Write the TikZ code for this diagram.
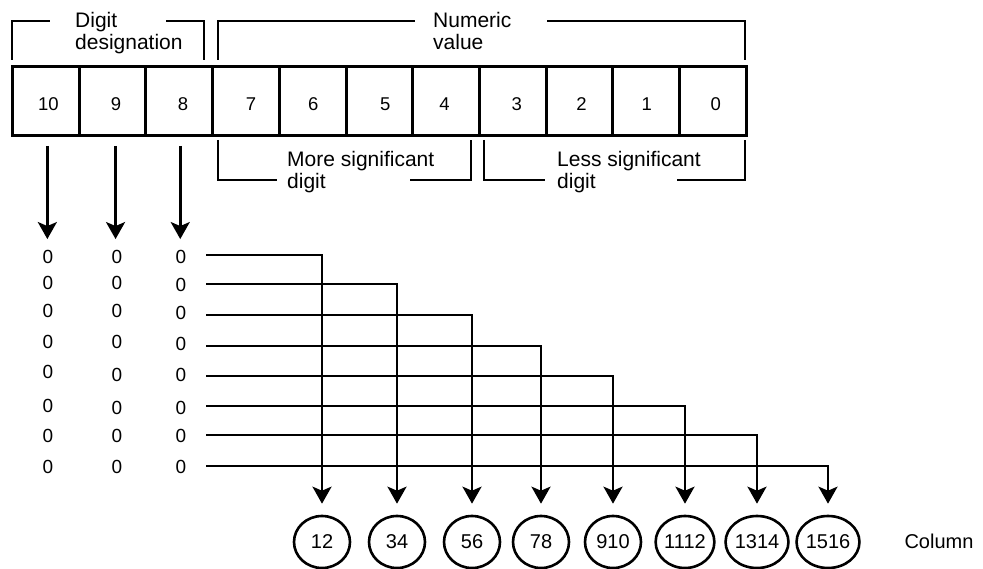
\documentclass[tikz,border=0pt]{standalone}
\usepackage{fontspec}
\setmainfont{Liberation Sans}
\usetikzlibrary{arrows.meta,shapes.geometric}

\begin{document}
\begin{tikzpicture}[x=1pt,y=-1pt,
  cell/.style={draw, line width=3pt, minimum width=66.7pt, minimum height=69pt,
    inner sep=0pt, anchor=north west},
  digit/.style={font=\fontsize{18.5}{18.5}\selectfont, inner sep=0pt},
  zero/.style={font=\fontsize{19}{19}\selectfont, inner sep=0pt},
  lbl/.style={font=\fontsize{21}{22}\selectfont, inner sep=0pt, anchor=base west},
  brk/.style={line width=2.6pt},
  conn/.style={line width=2.7pt, -{Stealth[length=17pt,width=19pt,inset=4pt]}},
  col/.style={draw, ellipse, line width=2.6pt, minimum width=56pt, minimum height=52pt,
    inner sep=0pt, font=\fontsize{20}{20}\selectfont},
]
\useasboundingbox (0,0) rectangle (983,569);

% the eleven digit cells
\foreach \t/\dx [count=\i from 0] in {10/2.5, 9/3.5, 8/3.7, 7/5, 6/0.5, 5/6, 4/-1.5, 3/4, 2/2, 1/0.5, 0/3}
  \node[cell, label={[digit, xshift=\dx pt, yshift=-3pt]center:\t}] (cell\t) at ({11+66.7*\i},65) {};

% brackets above the cells
\draw[brk] (12,60) -- (12,21) -- (50,21);
\draw[brk] (166,21) -- (204,21) -- (204,60);
\node[lbl] (desig) at (75,28) {\begin{tabular}[t]{@{}l@{}}Digit\\designation\end{tabular}};
\draw[brk] (218,60) -- (218,21) -- (415,21);
\draw[brk] (547,21) -- (745,21) -- (745,60);
\node[lbl] (numval) at (433,28) {\begin{tabular}[t]{@{}l@{}}Numeric\\value\end{tabular}};

% brackets below the cells
\draw[brk] (218,140) -- (218,180) -- (277,180);
\draw[brk] (410,180) -- (471,180) -- (471,140);
\node[lbl] (more) at (287,167) {\begin{tabular}[t]{@{}l@{}}More significant\\digit\end{tabular}};
\draw[brk] (484,140) -- (484,180) -- (545,180);
\draw[brk] (677,180) -- (745,180) -- (745,140);
\node[lbl] (less) at (557,167) {\begin{tabular}[t]{@{}l@{}}Less significant\\digit\end{tabular}};

% rows of zeros, row lines and column circles
\foreach \i/\ya/\yb/\yc/\yl/\xk/\c in {
  1/257/257/257/255/322/12,
  2/283/283/285/284/397/34,
  3/311/311/313/315/472/56,
  4/342/342/344/346/541/78,
  5/372/375/375/376/613/910,
  6/406/408/408/406/685/1112,
  7/436/436/436/435/757/1314,
  8/467/467/467/466/828/1516} {
  \node[zero] (a\i) at (48,\ya) {0};
  \node[zero] (b\i) at (117,\yb) {0};
  \node[zero] (c\i) at (181,\yc) {0};
  \coordinate (s\i) at (206,\yl);
  \node[col] (k\i) at (\xk,542) {\c};
  \draw[conn, shorten >=11pt] (s\i) -| (k\i.north);
}

% arrows from the designation cells down to the zero columns
\draw[conn, shorten <=9pt, shorten >=11pt] ([xshift=1.5pt]cell10.south) -- ([xshift=1.5pt]cell10.south |- a1.north);
\draw[conn, shorten <=9pt, shorten >=11pt] ([xshift=3pt]cell9.south) -- ([xshift=3pt]cell9.south |- b1.north);
\draw[conn, shorten <=9pt, shorten >=11pt] ([xshift=1pt]cell8.south) -- ([xshift=1pt]cell8.south |- c1.north);

\node[font=\fontsize{20}{20}\selectfont, inner sep=0pt] (column) at (939,541) {Column};
\end{tikzpicture}
\end{document}
